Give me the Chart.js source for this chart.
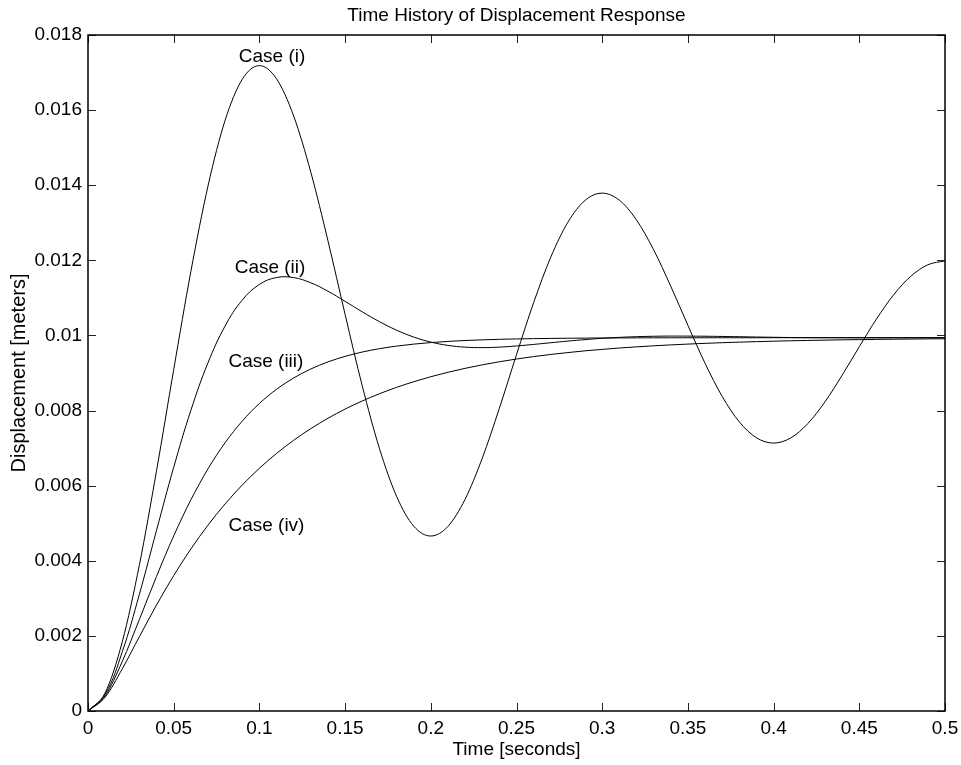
<!DOCTYPE html>
<html>
<head>
<meta charset="utf-8">
<title>Time History of Displacement Response</title>
<script src="https://cdn.jsdelivr.net/npm/chart.js@4"></script>
<style>
  body { margin: 0; background: #fff; }
  canvas { display: block; }
</style>
</head>
<body>
<canvas id="respChart" width="961" height="765"></canvas>
<script>
// sample times [s]
const times = [
    0, 0.01, 0.02, 0.03, 0.04, 0.05, 0.06, 0.07, 0.08, 0.09,
    0.10, 0.11, 0.12, 0.13, 0.14, 0.15, 0.16, 0.17, 0.18, 0.19,
    0.20, 0.21, 0.22, 0.23, 0.24, 0.25, 0.26, 0.27, 0.28, 0.29,
    0.30, 0.31, 0.32, 0.33, 0.34, 0.35, 0.36, 0.37, 0.38, 0.39,
    0.40, 0.41, 0.42, 0.43, 0.44, 0.45, 0.46, 0.47, 0.48, 0.49,
    0.50];

// displacement [m] for each case
const caseI = [
    0, 0.000483, 0.001843, 0.003895, 0.006400, 0.009091, 0.011699, 0.013978, 0.015730, 0.016821,
    0.017185, 0.016833, 0.015842, 0.014346, 0.012520, 0.010559, 0.008658, 0.006997, 0.005719, 0.004924,
    0.004659, 0.004916, 0.005638, 0.006728, 0.008060, 0.009489, 0.010874, 0.012085, 0.013016, 0.013596,
    0.013789, 0.013602, 0.013076, 0.012281, 0.011311, 0.010269, 0.009259, 0.008376, 0.007698, 0.007275,
    0.007134, 0.007271, 0.007654, 0.008234, 0.008941, 0.009700, 0.010436, 0.011080, 0.011574, 0.011882,
    0.011985];

const caseII = [
    0, 0.000445, 0.001576, 0.003112, 0.004813, 0.006488, 0.008003, 0.009271, 0.010253, 0.010942,
    0.011359, 0.011542, 0.011540, 0.011402, 0.011177, 0.010908, 0.010629, 0.010368, 0.010141, 0.009958,
    0.009823, 0.009735, 0.009688, 0.009676, 0.009689, 0.009720, 0.009761, 0.009806, 0.009850, 0.009889,
    0.009924, 0.009949, 0.009967, 0.009978, 0.009983, 0.009982, 0.009979, 0.009973, 0.009966, 0.009958,
    0.009951, 0.009945, 0.009941, 0.009940, 0.009939, 0.009938, 0.009938, 0.009939, 0.009939, 0.009940,
    0.009940];

const caseIII = [
    0, 0.000404, 0.001319, 0.002439, 0.003586, 0.004662, 0.005621, 0.006448, 0.007145, 0.007720,
    0.008189, 0.008566, 0.008868, 0.009107, 0.009295, 0.009443, 0.009558, 0.009647, 0.009716, 0.009769,
    0.009810, 0.009841, 0.009865, 0.009883, 0.009897, 0.009907, 0.009915, 0.009921, 0.009926, 0.009929,
    0.009932, 0.009934, 0.009936, 0.009937, 0.009938, 0.009938, 0.009939, 0.009939, 0.009939, 0.009939,
    0.009940, 0.009940, 0.009940, 0.009940, 0.009940, 0.009940, 0.009940, 0.009940, 0.009940, 0.009940,
    0.009940];

const caseIV = [
    0, 0.000368, 0.001124, 0.001981, 0.002823, 0.003605, 0.004314, 0.004949, 0.005514, 0.006017,
    0.006463, 0.006858, 0.007209, 0.007519, 0.007795, 0.008039, 0.008255, 0.008447, 0.008617, 0.008767,
    0.008901, 0.009019, 0.009124, 0.009217, 0.009299, 0.009372, 0.009437, 0.009494, 0.009544, 0.009590,
    0.009629, 0.009665, 0.009696, 0.009724, 0.009748, 0.009770, 0.009790, 0.009807, 0.009822, 0.009835,
    0.009847, 0.009858, 0.009867, 0.009875, 0.009883, 0.009889, 0.009895, 0.009900, 0.009904, 0.009909,
    0.009912];

const caseNames = ['Case (i)', 'Case (ii)', 'Case (iii)', 'Case (iv)'];
// where each case name sits, in (time, displacement)
const nameSpots = [[0.1074, 0.01741], [0.1062, 0.01179], [0.1038, 0.00929], [0.1041, 0.004945]];

const FONT = "'Liberation Sans', Arial, Helvetica, sans-serif";

function series(vals) {
    return times.map((t, i) => ({x: t, y: vals[i]}));
}

function line(name, vals, smooth) {
    const ds = {
        label: name,
        data: series(vals),
        borderColor: '#000',
        borderWidth: 1,
        pointRadius: 0,
        fill: false
    };
    // case (ii) peaks between samples, so a plain spline rounds it better
    if (smooth) ds.tension = 0.4;
    else ds.cubicInterpolationMode = 'monotone';
    return ds;
}

// box round the plot, inward ticks on all four sides, and the case names
const boxPlugin = {
    id: 'box',
    afterDatasetsDraw(chart) {
        const ctx = chart.ctx;
        const a = chart.chartArea;
        const xs = chart.scales.x, ys = chart.scales.y;
        ctx.save();
        ctx.strokeStyle = '#222';
        ctx.lineWidth = 1;
        ctx.beginPath();
        xs.ticks.forEach(t => {
            const px = Math.round(xs.getPixelForValue(t.value)) + 0.5;
            ctx.moveTo(px, a.bottom); ctx.lineTo(px, a.bottom - 8);
            ctx.moveTo(px, a.top); ctx.lineTo(px, a.top + 8);
        });
        ys.ticks.forEach(t => {
            const py = Math.round(ys.getPixelForValue(t.value)) + 0.5;
            ctx.moveTo(a.left, py); ctx.lineTo(a.left + 8, py);
            ctx.moveTo(a.right, py); ctx.lineTo(a.right - 8, py);
        });
        ctx.stroke();
        ctx.strokeStyle = '#000';
        ctx.lineWidth = 1.5;
        ctx.strokeRect(a.left, a.top, a.right - a.left, a.bottom - a.top);

        ctx.fillStyle = '#000';
        ctx.font = '19px ' + FONT;
        ctx.textAlign = 'center';
        ctx.textBaseline = 'middle';
        caseNames.forEach((n, i) => {
            ctx.fillText(n, xs.getPixelForValue(nameSpots[i][0]), ys.getPixelForValue(nameSpots[i][1]));
        });
        ctx.restore();
    }
};

const config = {
    type: 'line',
    data: {
        datasets: [
            line(caseNames[0], caseI),
            line(caseNames[1], caseII, true),
            line(caseNames[2], caseIII),
            line(caseNames[3], caseIV)
        ]
    },
    options: {
        responsive: false,
        animation: false,
        layout: { padding: { left: 0, right: 16, top: 0, bottom: 0 } },
        plugins: {
            legend: { display: false },
            tooltip: { enabled: false },
            title: {
                display: true,
                fullSize: false,
                text: 'Time History of Displacement Response',
                color: '#000',
                font: { family: FONT, size: 19, weight: 'normal', lineHeight: 1.2 },
                padding: { top: 4, bottom: 8.2 }
            }
        },
        scales: {
            x: {
                type: 'linear',
                min: 0,
                max: 0.5,
                grid: { display: false, drawTicks: false },
                border: { display: false },
                ticks: {
                    stepSize: 0.05,
                    padding: 6,
                    maxRotation: 0,
                    autoSkip: false,
                    color: '#000',
                    font: { family: FONT, size: 19, lineHeight: 1.2 },
                    callback: v => String(Math.round(v * 100) / 100)
                },
                title: {
                    display: true,
                    text: 'Time [seconds]',
                    color: '#000',
                    font: { family: FONT, size: 19, lineHeight: 1.2 },
                    padding: { top: 0, bottom: 3.6 }
                },
                afterFit: s => {
                    s.height = 54;
                    // let the end labels hang over the side margins
                    s.paddingLeft = 0;
                    s.paddingRight = 0;
                }
            },
            y: {
                min: 0,
                max: 0.018,
                grid: { display: false, drawTicks: false },
                border: { display: false },
                ticks: {
                    stepSize: 0.002,
                    padding: 6,
                    autoSkip: false,
                    color: '#000',
                    font: { family: FONT, size: 19, lineHeight: 1.2 },
                    callback: v => String(Math.round(v * 1000) / 1000)
                },
                title: {
                    display: true,
                    text: 'Displacement [meters]',
                    color: '#000',
                    font: { family: FONT, size: 20, lineHeight: 1.2 },
                    padding: { top: 7.5, bottom: 0 }
                },
                afterFit: s => { s.width = 88; }
            }
        }
    },
    plugins: [boxPlugin]
};

const respChart = new Chart(document.getElementById('respChart'), config);
</script>
</body>
</html>
